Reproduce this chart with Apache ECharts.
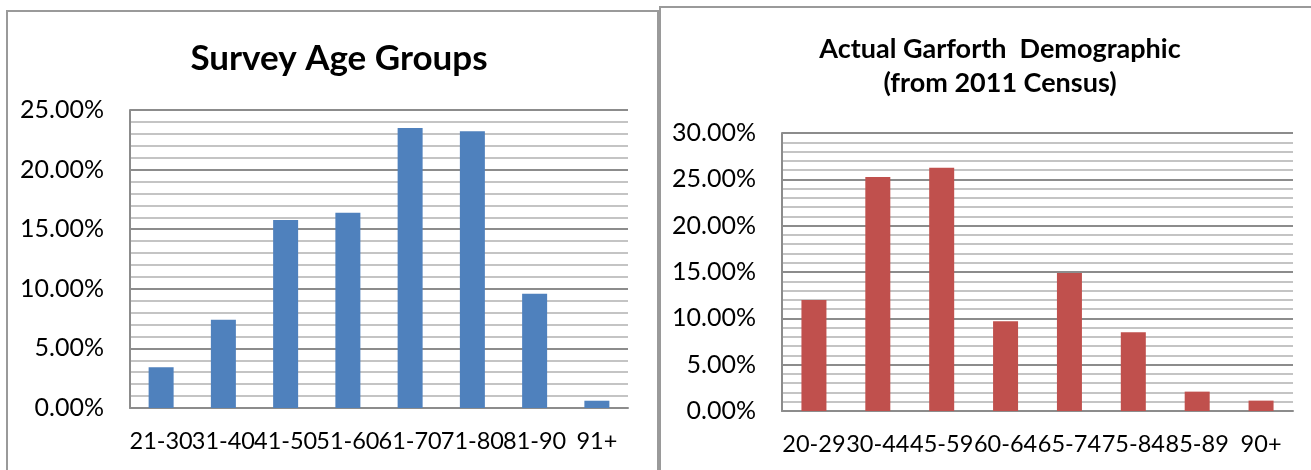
<!DOCTYPE html>
<html>
<head>
<meta charset="utf-8">
<script src="https://cdn.jsdelivr.net/npm/echarts@6/dist/echarts.min.js"></script>
<style>
html,body{margin:0;padding:0;background:#fff;}
#c{width:1311px;height:470px;}
</style>
</head>
<body>
<div id="c"></div>
<script>
// Left chart: Survey Age Groups
const surveyCategories = ['21-30','31-40','41-50','51-60','61-70','71-80','81-90','91+'];
const surveyValues = [3.41, 7.40, 15.78, 16.37, 23.49, 23.21, 9.58, 0.61];
// Right chart: Actual Garforth Demographic (from 2011 Census)
const censusCategories = ['20-29','30-44','45-59','60-64','65-74','75-84','85-89','90+'];
const censusValues = [11.98, 25.25, 26.26, 9.68, 14.89, 8.49, 2.09, 1.12];

const FONT = 'Lato';
const chart = echarts.init(document.getElementById('c'), null, {renderer:'canvas'});

function yAxisCfg(gridIndex, max){
  return {
    type:'value', gridIndex:gridIndex, min:0, max:max, interval:5,
    axisLine:{show:true, lineStyle:{color:'#8c8c8c', width:2}},
    axisTick:{show:false},
    axisLabel:{fontFamily:FONT, fontSize:25, color:'#000', margin:26,
      formatter:function(v){return v.toFixed(2)+'%';}},
    splitLine:{show:true, lineStyle:{color:'#8c8c8c', width:2}},
    minorTick:{show:false, splitNumber:5},
    minorSplitLine:{show:true, lineStyle:{color:'#c4c4c4', width:2}}
  };
}
function xAxisCfg(gridIndex, cats){
  return {
    type:'category', gridIndex:gridIndex, data:cats,
    axisLine:{show:true, lineStyle:{color:'#8c8c8c', width:2}},
    axisTick:{show:false},
    axisLabel:{fontFamily:FONT, fontSize:23.5, color:'#000', margin:21, interval:0}
  };
}

chart.setOption({
  animation:false,
  title:[
    {text:'Survey Age Groups', left:334, top:36, textAlign:'center',
     textStyle:{fontFamily:FONT, fontWeight:'bold', fontSize:35, color:'#000'}},
    {text:'Actual Garforth  Demographic\n(from 2011 Census)', left:995, top:27, textAlign:'center',
     textStyle:{fontFamily:FONT, fontWeight:'bold', fontSize:27, color:'#000', lineHeight:34}}
  ],
  graphic:[
    {type:'rect', shape:{x:7, y:11, width:651, height:480}, style:{fill:'none', stroke:'#9a9a9a', lineWidth:2}, z:-1},
    {type:'rect', shape:{x:660, y:7, width:680, height:480}, style:{fill:'none', stroke:'#9a9a9a', lineWidth:2}, z:-1}
  ],
  grid:[
    {left:130, top:110, width:498, height:298},
    {left:782, top:133, width:511, height:278}
  ],
  xAxis:[xAxisCfg(0, surveyCategories), xAxisCfg(1, censusCategories)],
  yAxis:[yAxisCfg(0, 25), yAxisCfg(1, 30)],
  series:[
    {type:'bar', xAxisIndex:0, yAxisIndex:0, data:surveyValues, barWidth:25,
     itemStyle:{color:'#4f81bd'}},
    {type:'bar', xAxisIndex:1, yAxisIndex:1, data:censusValues, barWidth:25,
     itemStyle:{color:'#c0504d'}}
  ]
});
</script>
</body>
</html>
